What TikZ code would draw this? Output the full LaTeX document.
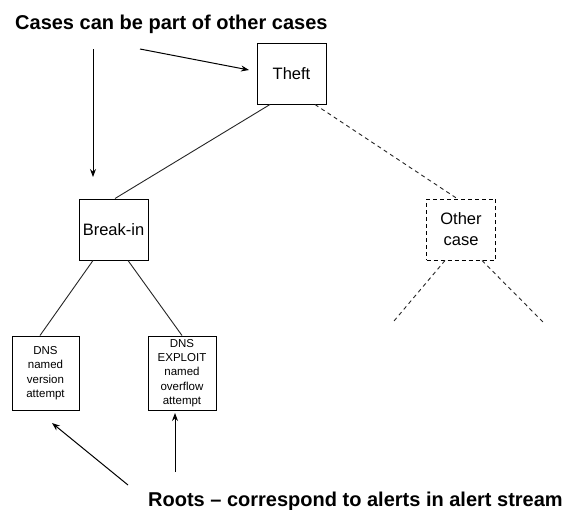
\documentclass[tikz,border=0pt]{standalone}
\usepackage{fontspec}
\setmainfont{Liberation Sans}
\usetikzlibrary{arrows.meta}
\begin{document}
\begin{tikzpicture}[x=1pt,y=-1pt,
  box/.style={draw, line width=1pt, inner sep=0pt, align=center,
    font=\fontsize{16.5}{21}\selectfont},
  casebox/.style={box, minimum width=69pt, minimum height=61pt},
  leaf/.style={box, font=\fontsize{11.5}{14.4}\selectfont,
    minimum width=67pt, minimum height=74pt},
  dashbox/.style={dash pattern=on 4pt off 3pt},
  edge/.style={line width=0.9pt, draw=black!85},
  dashedge/.style={edge, dash pattern=on 4pt off 3.5pt},
  pointer/.style={line width=1pt, -{Stealth[length=8pt,width=6pt]}},
  heading/.style={font=\bfseries\fontsize{20}{24}\selectfont,
    inner sep=0pt, anchor=base west}
]
\useasboundingbox (0,0) rectangle (562,509);
\fill[white] (0,0) rectangle (562,509);

% case tree
\node[casebox] (theft) at (291.5,73.5) {Theft};
\node[casebox] (breakin) at (113.5,229.5) {Break-in};
\node[casebox, dashbox] (other) at (461,229.5) {Other\\case};
\node[leaf] (dns1) at (45.5,373) {DNS\\named\\version\\attempt};
\node[leaf, minimum width=68pt] (dns2) at (182,373)
  {DNS\\EXPLOIT\\named\\overflow\\attempt};

% captions
\node[heading] (title) at (15,29) {Cases can be part of other cases};
\node[heading] (roots) at (148,506) {Roots – correspond to alerts in alert stream};

% free ends
\coordinate (a1s) at (93,49);   \coordinate (a1e) at (93,177);
\coordinate (a2s) at (140,49);  \coordinate (a2e) at (249,70);
\coordinate (r1s) at (128,485); \coordinate (r1e) at (52,423);
\coordinate (r2s) at (175,472); \coordinate (r2e) at (175,413);
\coordinate (ol) at (394,321);  \coordinate (or) at (543,322);

% tree edges
\draw[edge] ([xshift=-21.5pt]theft.south) -- ([xshift=1.5pt]breakin.north);
\draw[dashedge] ([xshift=23.5pt]theft.south) -- ([xshift=-4pt]other.north);
\draw[edge] ([xshift=-20.5pt]breakin.south) -- ([xshift=-5.5pt]dns1.north);
\draw[edge] ([xshift=14.5pt]breakin.south) -- (dns2.north);
\draw[dashedge] ([xshift=-16pt]other.south) -- (ol);
\draw[dashedge] ([xshift=21pt]other.south) -- (or);

% pointers
\draw[pointer] (a1s) -- (a1e);
\draw[pointer] (a2s) -- (a2e);
\draw[pointer] (r1s) -- (r1e);
\draw[pointer] (r2s) -- (r2e);
\end{tikzpicture}
\end{document}
